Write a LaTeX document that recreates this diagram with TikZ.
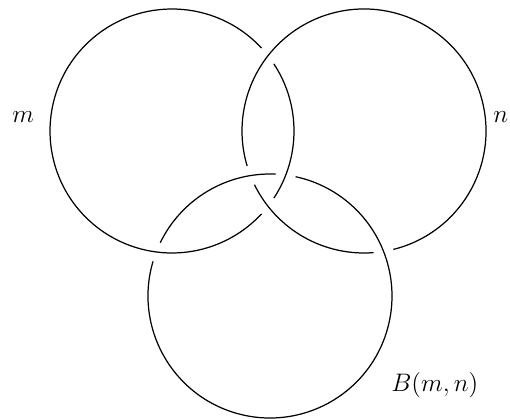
\documentclass[tikz,border=0pt]{standalone}
\usepackage{amsmath,amssymb}
\usepackage{tikz}
\usetikzlibrary{positioning}

\tikzset{
  ring/.style={line width=0.7pt,black},
  ringlabel/.style={font=\fontsize{14.5}{17}\selectfont,inner sep=0pt,anchor=base west}
}

\begin{document}
\begin{tikzpicture}
    \useasboundingbox (0,0) rectangle (10.2,8.38);
    % Centres of the three rings.
    \def\r{2.44}
    \coordinate (ringm) at (3.44,5.76);
    \coordinate (ringn) at (7.28,5.76);
    \coordinate (ringb) at (5.40,2.46);

    % Each ring is drawn as arcs, leaving gaps where it passes under.
    \foreach \c/\a/\b in {ringm/42.8/317.2, ringm/-33.4/33.4,
                          ringb/87.3/154.1, ringb/163.5/437.9,
                          ringn/206.1/274.5, ringn/283.9/556.7} {
      \draw[ring] (\c) ++(\a:\r) arc[start angle=\a,end angle=\b,radius=\r];
    }

    % Labels.
    \node[ringlabel] (labelm) at (0.24,5.92) {$m$};
    \node[ringlabel] (labeln) at (9.86,5.92) {$n$};
    \node[ringlabel] (labelb) at (7.82,0.54) {$B(m,n)$};
\end{tikzpicture}
\end{document}
